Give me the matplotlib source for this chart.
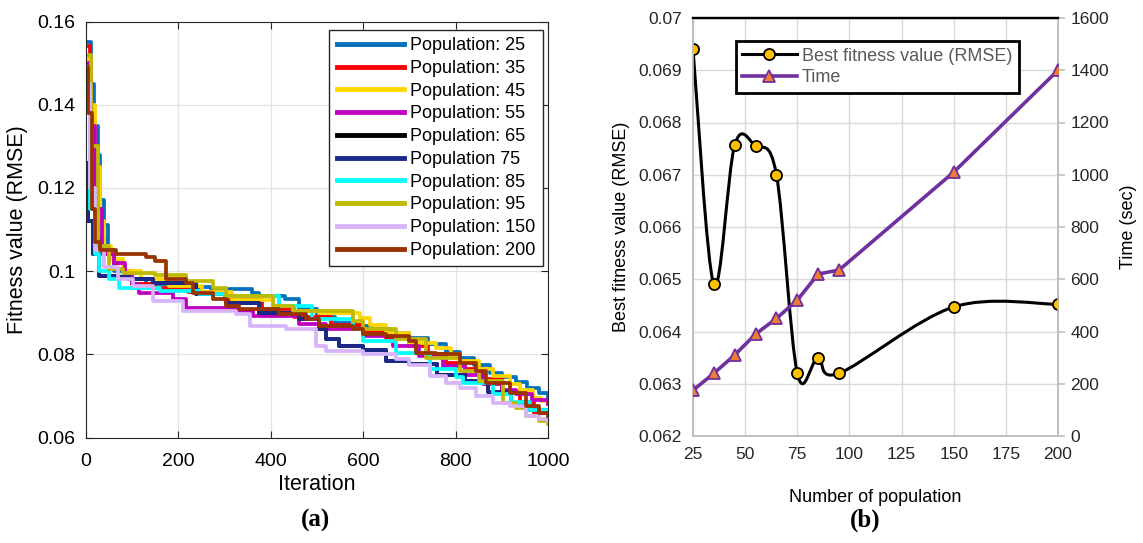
import numpy as np
import matplotlib.pyplot as plt
from matplotlib.path import Path
from matplotlib.patches import PathPatch

#--------data begin--------
# (a) convergence curves: iteration of each step and fitness value after it
it25 = [0, 10, 18, 25, 30, 38, 48, 60, 90, 130, 200, 270, 360, 375, 430, 460, 500, 540, 580, 620, 660, 700, 740, 780, 810, 840, 875, 900, 930, 955, 980, 1000]
v25 = [0.155, 0.145, 0.135, 0.128, 0.117, 0.111, 0.105, 0.100, 0.098, 0.097, 0.0962, 0.0956, 0.0948, 0.094, 0.0932, 0.0908, 0.089, 0.0875, 0.0868, 0.0862, 0.0852, 0.0838, 0.0825, 0.0805, 0.0792, 0.0775, 0.0756, 0.0745, 0.0734, 0.0718, 0.0706, 0.0696]
it35 = [0, 8, 15, 25, 40, 60, 80, 100, 150, 220, 300, 380, 450, 530, 600, 650, 700, 740, 780, 820, 860, 900, 940, 970, 1000]
v35 = [0.154, 0.140, 0.120, 0.108, 0.104, 0.102, 0.100, 0.097, 0.096, 0.095, 0.093, 0.091, 0.089, 0.087, 0.0855, 0.084, 0.082, 0.080, 0.078, 0.0765, 0.074, 0.071, 0.0685, 0.066, 0.065]
it45 = [0, 10, 20, 30, 40, 55, 80, 120, 180, 250, 317, 404, 447, 505, 592, 614, 650, 700, 758, 790, 809, 850, 880, 917, 940, 967, 985, 1000]
v45 = [0.151, 0.140, 0.125, 0.112, 0.106, 0.103, 0.100, 0.098, 0.0964, 0.095, 0.093, 0.0916, 0.0904, 0.090, 0.0888, 0.087, 0.0852, 0.0828, 0.0816, 0.080, 0.0784, 0.0765, 0.0748, 0.0728, 0.0715, 0.0696, 0.0688, 0.068]
it55 = [0, 10, 20, 35, 60, 85, 100, 115, 188, 216, 332, 361, 462, 520, 600, 665, 720, 773, 820, 859, 900, 931, 965, 1000]
v55 = [0.150, 0.135, 0.115, 0.104, 0.102, 0.099, 0.097, 0.0948, 0.0932, 0.0912, 0.0905, 0.0892, 0.0872, 0.086, 0.0845, 0.082, 0.0795, 0.0772, 0.075, 0.0728, 0.0715, 0.0704, 0.069, 0.068]
it75 = [0, 5, 15, 29, 72, 94, 144, 238, 303, 375, 462, 505, 520, 548, 600, 650, 700, 760, 820, 870, 920, 960, 1000]
v75 = [0.126, 0.112, 0.104, 0.0988, 0.0985, 0.098, 0.0972, 0.0944, 0.0924, 0.090, 0.0884, 0.086, 0.0836, 0.082, 0.081, 0.0784, 0.0776, 0.075, 0.0735, 0.071, 0.068, 0.0665, 0.0655]
# population 65 lies hidden behind the later curves in the figure
it65 = [0, 5, 15, 29, 72, 94, 144, 238, 303, 375, 462, 505, 520, 548, 600, 650, 700, 760, 820, 870, 920, 960, 1000]
v65 = [0.126, 0.112, 0.104, 0.0988, 0.0985, 0.098, 0.0972, 0.0944, 0.0924, 0.090, 0.0884, 0.086, 0.0836, 0.082, 0.081, 0.0784, 0.0776, 0.075, 0.0735, 0.071, 0.068, 0.0665, 0.0655]
it85 = [0, 8, 20, 29, 50, 72, 160, 245, 300, 418, 490, 577, 600, 672, 744, 800, 816, 880, 920, 960, 1000]
v85 = [0.140, 0.115, 0.104, 0.100, 0.098, 0.096, 0.0952, 0.0945, 0.094, 0.0916, 0.0884, 0.086, 0.0832, 0.0804, 0.0764, 0.0745, 0.0732, 0.0705, 0.0685, 0.0665, 0.064]
it95 = [0, 10, 25, 50, 80, 150, 216, 274, 303, 404, 447, 577, 600, 672, 737, 809, 850, 902, 930, 953, 980, 1000]
v95 = [0.152, 0.130, 0.106, 0.1005, 0.0996, 0.099, 0.0976, 0.096, 0.094, 0.0916, 0.0904, 0.088, 0.086, 0.0836, 0.0792, 0.076, 0.0735, 0.0684, 0.067, 0.0652, 0.064, 0.0632]
it150 = [0, 8, 20, 40, 70, 101, 144, 209, 325, 354, 433, 498, 520, 600, 672, 700, 744, 780, 809, 845, 881, 917, 953, 980, 1000]
v150 = [0.145, 0.120, 0.105, 0.101, 0.098, 0.0964, 0.0928, 0.0904, 0.0896, 0.0868, 0.086, 0.082, 0.0808, 0.080, 0.0788, 0.0775, 0.0748, 0.0732, 0.072, 0.070, 0.0684, 0.0675, 0.0652, 0.0645, 0.064]
it200 = [0, 5, 12, 20, 30, 65, 130, 150, 173, 216, 231, 274, 303, 332, 418, 476, 505, 577, 599, 650, 700, 715, 758, 809, 845, 866, 917, 953, 980, 1000]
v200 = [0.149, 0.138, 0.115, 0.107, 0.105, 0.104, 0.1035, 0.1025, 0.098, 0.0972, 0.0948, 0.0932, 0.0916, 0.0908, 0.0896, 0.0884, 0.0868, 0.086, 0.0848, 0.0844, 0.0832, 0.0804, 0.080, 0.078, 0.076, 0.0732, 0.0708, 0.0676, 0.066, 0.0652]

labels_a = ["Population: 25", "Population: 35", "Population: 45", "Population: 55",
            "Population: 65", "Population 75", "Population: 85", "Population: 95",
            "Population: 150", "Population: 200"]

# (b) best fitness and run time vs population size
population = [25, 35, 45, 55, 65, 75, 85, 95, 150, 200]
best_rmse = [0.0694, 0.0649, 0.06757, 0.06755, 0.0670, 0.0632, 0.0635, 0.0632, 0.06447, 0.06452]
run_time = [175, 240, 310, 390, 450, 520, 620, 635, 1010, 1400]
#--------data end--------

#--------config begin--------
colors_a = ("#0072BD", "#FF0000", "#FFD700", "#C000C0", "#000000",
            "#1A2A8C", "#00FFFF", "#BFBA00", "#D8B4F8", "#993300")
#--------config end--------


def smoothPath(xs, ys):
  # excel-like smoothed line: cubic bezier through every point
  pts = np.column_stack([xs, ys]).astype(float)
  n = len(pts)
  verts = [pts[0]]
  codes = [Path.MOVETO]
  for i in range(n - 1):
    p0 = pts[max(i - 1, 0)]
    p1 = pts[i]
    p2 = pts[i + 1]
    p3 = pts[min(i + 2, n - 1)]
    verts += [p1 + (p2 - p0) / 6.0, p2 - (p3 - p1) / 6.0, p2]
    codes += [Path.CURVE4] * 3
  return Path(verts, codes)


plt.rcParams['font.family'] = ['Liberation Sans', 'DejaVu Sans']
W, H = 1143.0, 543.0
fig = plt.figure(figsize=(W / 100, H / 100), dpi=100)

# ---- (a) ----
ax1 = fig.add_axes([86 / W, 1 - 437.5 / H, 462 / W, 416 / H])
series = [(it25, v25), (it35, v35), (it45, v45), (it55, v55), (it65, v65),
          (it75, v75), (it85, v85), (it95, v95), (it150, v150), (it200, v200)]
for (its, vals), color, label in zip(series, colors_a, labels_a):
  ax1.plot(its, vals, drawstyle="steps-post", color=color, lw=2.7, label=label)

ax1.set_xlim(0, 1000)
ax1.set_ylim(0.06, 0.16)
ax1.set_xticks([0, 200, 400, 600, 800, 1000])
ax1.set_yticks([0.06, 0.08, 0.1, 0.12, 0.14, 0.16])
ax1.set_yticklabels(["0.06", "0.08", "0.1", "0.12", "0.14", "0.16"])
ax1.grid(True, color="#E3E3E3", lw=0.9)
ax1.set_axisbelow(True)
ax1.tick_params(direction="in", top=True, right=True, labelsize=14, length=5,
                color="#262626")
ax1.tick_params(axis="y", pad=8)
ax1.tick_params(axis="x", pad=11)
for sp in ax1.spines.values():
  sp.set_color("#262626")
ax1.set_xlabel("Iteration", fontsize=15.5, labelpad=3)
ax1.set_ylabel("Fitness value (RMSE)", fontsize=15.5, labelpad=6)
leg = ax1.legend(loc="upper right", bbox_to_anchor=(0.989, 0.980), borderaxespad=0,
                 fontsize=13, handlelength=3.75, labelspacing=0.32, fancybox=False,
                 framealpha=1, borderpad=0.4, handletextpad=0.33)
leg.get_frame().set_edgecolor("#262626")
leg.get_frame().set_linewidth(1.0)
for line in leg.get_lines():
  line.set_linewidth(3.5)

# ---- (b) ----
ax2 = fig.add_axes([693 / W, 1 - 436 / H, 365 / W, 418 / H])
ax3 = ax2.twinx()
ax2.set_xlim(25, 200)
ax2.set_ylim(0.062, 0.070)
ax3.set_ylim(0, 1600)
ax2.set_xticks(np.arange(25, 201, 25))
ax2.set_yticks(np.arange(0.062, 0.07001, 0.001))
ax2.set_yticklabels(["0.062", "0.063", "0.064", "0.065", "0.066", "0.067", "0.068", "0.069", "0.07"])
ax3.set_yticks(np.arange(0, 1601, 200))
ax2.grid(True, color="#D9D9D9", lw=1.0)
ax2.set_axisbelow(True)
for ax in (ax2, ax3):
  for sp in ax.spines.values():
    sp.set_color("#BFBFBF")
    sp.set_linewidth(1.2)
  ax.spines["top"].set_color("black")
  ax.spines["top"].set_linewidth(1.6)
ax2.tick_params(axis="both", length=0, labelsize=12.5, colors="#262626", pad=8)
ax3.tick_params(axis="y", length=5, width=1.2, color="#BFBFBF", labelsize=12.5,
                labelcolor="#262626", pad=4)

ax2.add_patch(PathPatch(smoothPath(population, best_rmse), fc="none", ec="black", lw=2.2, zorder=3))
ax2.plot(population, best_rmse, ls="none", marker="o", ms=8, mfc="#FFC000", mec="black",
         mew=1.3, zorder=4)
ax3.plot(population, run_time, color="#7030A0", lw=2.6, marker="^", ms=9,
         mfc="#ED7D31", mec="#7030A0", mew=1.3, zorder=3)

ax2.set_xlabel("Number of population", fontsize=13, labelpad=19)
ax2.set_ylabel("Best fitness value (RMSE)", fontsize=13, labelpad=6)
ax3.set_ylabel("Time (sec)", fontsize=13, labelpad=8)

h1, = ax2.plot([], [], color="black", lw=2.2, marker="o", ms=8, mfc="#FFC000", mec="black", mew=1.3)
h2, = ax2.plot([], [], color="#7030A0", lw=2.6, marker="^", ms=9, mfc="#ED7D31", mec="#7030A0", mew=1.3)
leg2 = ax3.legend([h1, h2], ["Best fitness value (RMSE)", "Time"], loc="upper left",
                  bbox_to_anchor=(0.118, 0.944), borderaxespad=0, fontsize=13,
                  handlelength=3.0, fancybox=False, framealpha=1, labelspacing=0.25,
                  borderpad=0.35, labelcolor="#595959", handletextpad=0.3)
leg2.get_frame().set_edgecolor("black")
leg2.get_frame().set_linewidth(2.0)

fig.text(0.2756, 0.03, "(a)", fontsize=18, fontweight="bold", family="Liberation Serif", ha="center")
fig.text(0.757, 0.03, "(b)", fontsize=18, fontweight="bold", family="Liberation Serif", ha="center")

plt.savefig("out.png", dpi=100)
